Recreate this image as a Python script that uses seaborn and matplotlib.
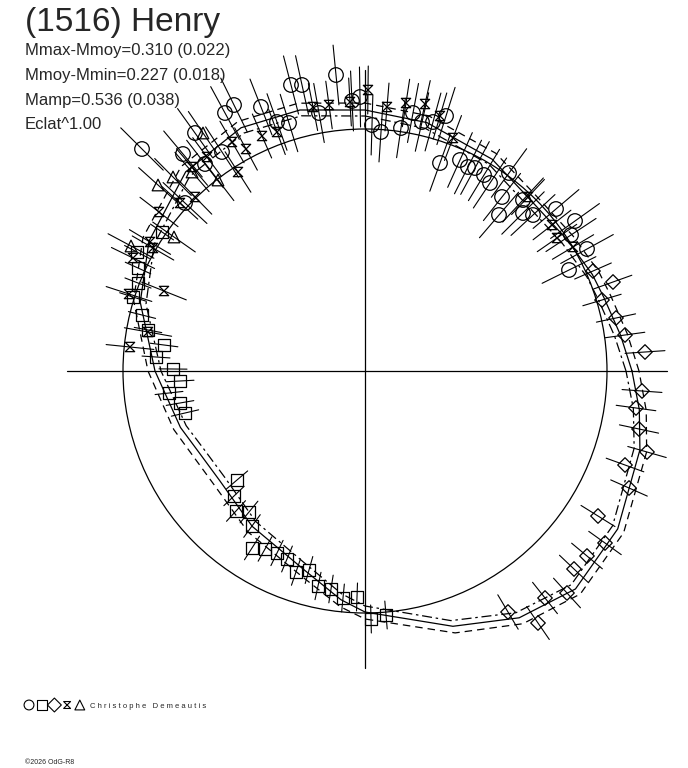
import numpy as np
import pandas as pd
import seaborn as sns
from matplotlib import pyplot as plt
from matplotlib.patches import Circle
from matplotlib.path import Path

# Centre of the polar diagram and radius of the reference circle (px)
CX, CY = 365, 371
R_REF = 242

# Fitted light curve: angle (deg) and radius (px)
curve_angle = [0, 8, 17, 23, 33, 46, 59, 76, 90, 104, 117, 132, 149, 163,
               180, 197, 206, 217, 234, 253, 264, 270, 289, 302, 314, 328, 344, 352, 360]
curve_radius = [267, 258, 250, 247, 241, 238, 247, 256, 261, 269, 273, 268, 252, 235,
                210, 193, 185, 182, 192, 208, 230, 241, 270, 291, 303, 298, 286, 277, 267]

# Observations, as (x, y) positions in the picture (px)
circle_x = [142, 183, 185, 205, 195, 225, 234, 222, 261, 277, 289, 291, 302, 336, 319, 352, 360,
            372, 381, 401, 413, 422, 433, 446, 440, 460, 468, 475, 484, 490, 502, 499, 509,
            523, 523, 533, 556, 575, 571, 587, 569]
circle_y = [149, 154, 203, 164, 133, 113, 105, 152, 107, 122, 123, 85, 85, 75, 113, 101, 97,
            125, 132, 128, 113, 122, 122, 116, 163, 160, 167, 168, 175, 183, 197, 215, 173,
            200, 213, 215, 209, 221, 235, 249, 270]
square_x = [162, 137, 138, 138, 133, 142, 148, 164, 156, 173, 180, 169, 180, 185, 237, 234, 236,
            249, 252, 252, 265, 277, 287, 296, 309, 318, 331, 343, 357, 371, 386]
square_y = [232, 252, 268, 283, 297, 315, 330, 345, 357, 369, 381, 393, 403, 413, 480, 496, 511,
            512, 526, 548, 549, 553, 559, 572, 570, 586, 589, 598, 597, 619, 615]
diamond_x = [593, 613, 602, 616, 625, 645, 642, 636, 639, 647, 625, 629, 598, 605, 587, 574, 567,
             545, 508, 538]
diamond_y = [271, 282, 300, 318, 335, 352, 391, 408, 429, 452, 465, 488, 516, 543, 556, 569, 593,
             598, 612, 623]
bowtie_x = [195, 207, 192, 180, 159, 150, 232, 246, 238, 262, 277, 313, 329, 350, 368, 387, 406,
            425, 440, 453, 528, 552, 557, 573, 129, 164, 130, 148, 153, 133]
bowtie_y = [197, 157, 167, 203, 212, 242, 142, 149, 172, 136, 132, 107, 105, 102, 90, 107, 103,
            104, 116, 138, 197, 225, 238, 247, 294, 291, 347, 332, 248, 258]
triangle_x = [158, 173, 174, 131, 203, 218, 192]
triangle_y = [185, 177, 237, 246, 133, 180, 172]

BOWTIE = Path([(-1, 1), (1, 1), (-1, -1), (1, -1), (-1, 1)],
              [Path.MOVETO, Path.LINETO, Path.LINETO, Path.LINETO, Path.CLOSEPOLY])

series = [
    (circle_x, circle_y, "o", 110, 30),
    (square_x, square_y, "s", 70, 14),
    (diamond_x, diamond_y, "D", 55, 20),
    (bowtie_x, bowtie_y, BOWTIE, 45, 24),
    (triangle_x, triangle_y, "^", 70, 26),
]

sns.set_style("white")
plt.rcParams["font.family"] = ["Liberation Sans", "DejaVu Sans"]

fig = plt.figure(figsize=(6.88, 7.68), dpi=100)
ax = fig.add_axes([0, 0, 1, 1])
ax.set_xlim(0, 688)
ax.set_ylim(768, 0)
ax.set_axis_off()

# Axes of the diagram and reference circle
ax.plot([67, 667], [CY, CY], color="black", lw=0.9)
ax.plot([CX, CX], [70, 668], color="black", lw=0.9)
ax.add_patch(Circle((CX, CY), R_REF, fill=False, ec="black", lw=0.9))

# Model curve with its two error envelopes
th = np.radians(curve_angle)
rad = np.array(curve_radius, dtype=float)
for off, ls in [(0, "-"), (7, (0, (6, 4))), (-6, (0, (8, 3, 2, 3)))]:
    ax.plot(CX + (rad + off) * np.cos(th), CY - (rad + off) * np.sin(th),
            color="black", lw=0.9, linestyle=ls)

# Radial error bars and markers
for xs, ys, mk, size, err in series:
    dx = np.array(xs) - CX
    dy = CY - np.array(ys)
    r = np.hypot(dx, dy)
    ux, uy = dx / r, dy / r
    for x0, y0, a, b in zip(xs, ys, ux, uy):
        ax.plot([x0 - err * a, x0 + err * a], [y0 + err * b, y0 - err * b],
                color="black", lw=0.8)
    df = pd.DataFrame({"x": xs, "y": ys})
    sns.scatterplot(data=df, x="x", y="y", marker=mk, s=size, facecolor="none",
                    edgecolor="black", linewidth=0.9, ax=ax)

# Texts
ax.text(25, 22, "(1516) Henry", fontsize=24, va="center", ha="left")
for i, line in enumerate(["Mmax-Mmoy=0.310 (0.022)", "Mmoy-Mmin=0.227 (0.018)",
                          "Mamp=0.536 (0.038)", "Eclat^1.00"]):
    ax.text(25, 51 + 24.5 * i, line, fontsize=12, va="center", ha="left")

for i, mk in enumerate(["o", "s", "D", BOWTIE, "^"]):
    ax.scatter([29 + 12.7 * i], [705], marker=mk, s=50 if mk != BOWTIE else 25,
               facecolor="none", edgecolor="black", linewidth=0.8)
ax.text(90, 706, "C h r i s t o p h e   D e m e a u t i s", fontsize=5.5, va="center")
ax.text(25, 762, "©2026 OdG-R8", fontsize=5, va="center")

fig.savefig("out.png", dpi=100)
